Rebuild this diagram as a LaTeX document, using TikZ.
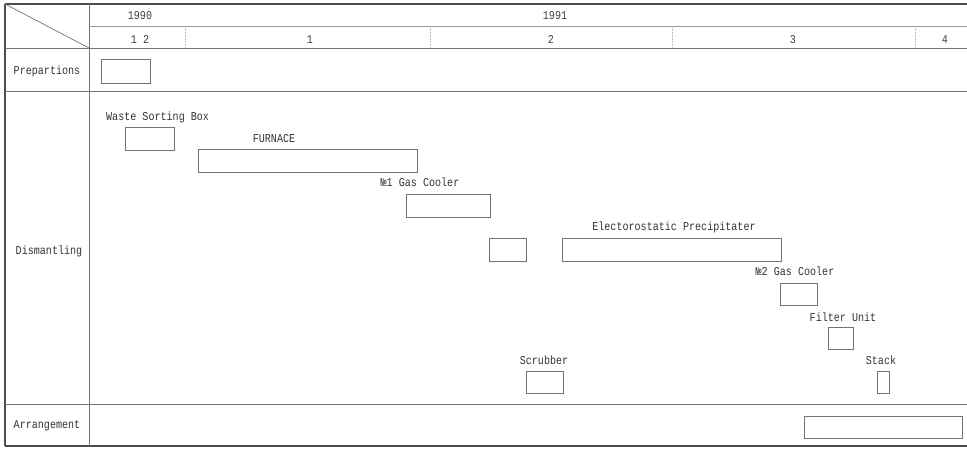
\documentclass[tikz,border=0pt]{standalone}
\usepackage{fontspec}
\newfontfamily\chartfont[FakeStretch=0.84]{Liberation Mono}
\begin{document}
\begin{tikzpicture}[x=1pt,y=-1pt,
  rule/.style={draw=black!55, line width=0.7pt},
  frame/.style={draw=black!70, line width=1.3pt},
  tick/.style={draw=black!25, line width=0.5pt, densely dotted},
  bar/.style={draw=black!55, line width=0.7pt, inner sep=0pt, fill=white},
  lbl/.style={font=\chartfont\fontsize{12}{13}\selectfont, text=black!80, inner sep=0pt, anchor=base},
  hdr/.style={lbl, text=black!75}]
\useasboundingbox (0,0) rectangle (967,449);

% table frame and rules
\coordinate (tl) at (5,4);
\coordinate (tr) at (967,4);
\coordinate (bl) at (5,446);
\coordinate (br) at (967,446);
\coordinate (ct) at (89,4);
\coordinate (cb) at (89,446);
\coordinate (cd) at (89,48);
\draw[frame] (tl) -- (tr);
\draw[frame] (bl) -- (br);
\draw[frame] (tl) -- (bl);
\draw[rule] (ct) -- (cb);
\draw[rule] (tl) -- (cd);
\draw[rule, draw=black!40] (89,26) -- (967,26);
\draw[rule] (5,48) -- (967,48);
\draw[rule] (5,91) -- (967,91);
\draw[rule] (5,404) -- (967,404);

% month boundaries
\foreach \mx in {185,430,672,915} \draw[tick] (\mx,26) -- (\mx,48);

% header
\node[hdr] (y90) at (140,20) {1990};
\node[hdr] (y91) at (555,20) {1991};
\node[hdr] (m12) at (140,44) {1 2};
\node[hdr] (m1) at (310,44) {1};
\node[hdr] (m2) at (551,44) {2};
\node[hdr] (m3) at (793,44) {3};
\node[hdr] (m4) at (945,44) {4};

% row titles
\node[lbl] (rprep) at (47,75) {Prepartions};
\node[lbl] (rdism) at (49,255) {Dismantling};
\node[lbl] (rarr) at (47,428) {Arrangement};

% schedule bars
\node[bar, minimum width=49, minimum height=24] (prep) at (125.5,71) {};

\node[lbl, anchor=base west] (twsb) at (106,121) {Waste Sorting Box};
\node[bar, minimum width=49, minimum height=23] (wsb) at (149.5,138.5) {};

\node[lbl] (tfurn) at (274,143) {FURNACE};
\node[bar, minimum width=219, minimum height=23] (furn) at (307.5,160.5) {};

\node[lbl] (tgc1) at (420,187) {№1 Gas Cooler};
\node[bar, minimum width=84, minimum height=23] (gc1) at (448,205.5) {};

\node[bar, minimum width=37, minimum height=23] (duct) at (507.5,249.5) {};

\node[lbl] (tesp) at (674,231) {Electorostatic Precipitater};
\node[bar, minimum width=219, minimum height=23] (esp) at (671.5,249.5) {};

\node[lbl] (tgc2) at (795,276) {№2 Gas Cooler};
\node[bar, minimum width=37, minimum height=22] (gc2) at (798.5,294) {};

\node[lbl] (tfilt) at (843,321) {Filter Unit};
\node[bar, minimum width=25, minimum height=22] (filt) at (840.5,338) {};

\node[lbl] (tscr) at (544,364) {Scrubber};
\node[bar, minimum width=37, minimum height=22] (scr) at (544.5,382) {};

\node[lbl] (tstk) at (881,364) {Stack};
\node[bar, minimum width=12, minimum height=22] (stk) at (883,382) {};

\node[bar, minimum width=158, minimum height=22] (arr) at (883,427) {};
\end{tikzpicture}
\end{document}
